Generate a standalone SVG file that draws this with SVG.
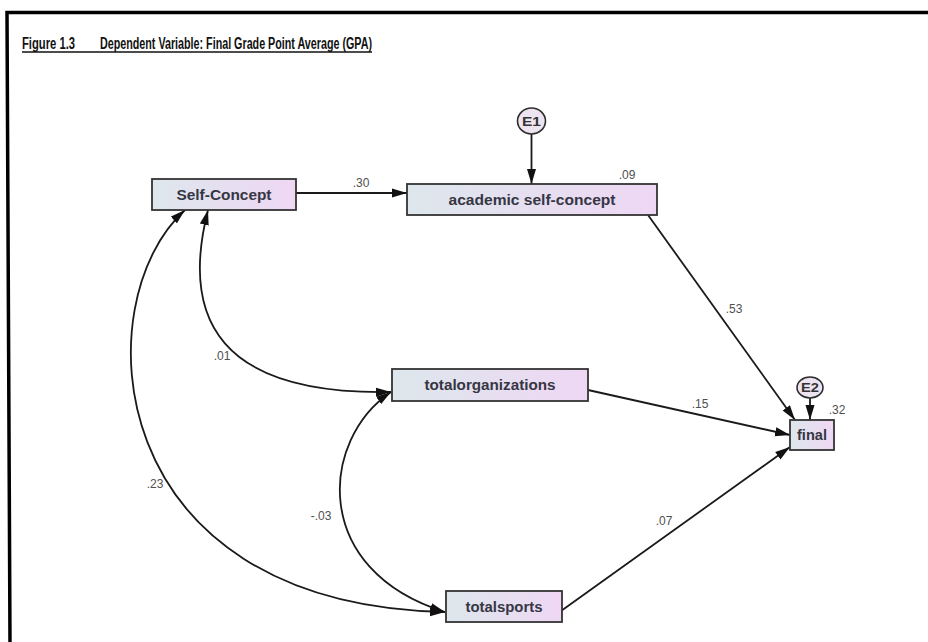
<svg xmlns="http://www.w3.org/2000/svg" width="928" height="642" viewBox="0 0 928 642">
<defs>
<linearGradient id="boxfill" x1="0" y1="0" x2="1" y2="0">
<stop offset="0" stop-color="#dde7ec"/>
<stop offset="1" stop-color="#efd7f4"/>
</linearGradient>
<marker id="ah" markerUnits="userSpaceOnUse" markerWidth="15" markerHeight="10" refX="15" refY="5" orient="auto-start-reverse" viewBox="0 0 15 10">
<path d="M0,0.5 L15,5 L0,9.5 z" fill="#111"/>
</marker>
<style>
.box{fill:url(#boxfill);stroke:#333;stroke-width:1.8}
.err{fill:#ede3f1;stroke:#2e2e2e;stroke-width:1.6}
.lbl{font-family:"Liberation Sans",Arial,sans-serif;font-size:14px;font-weight:bold;fill:#363644;text-anchor:middle}
.elbl{font-family:"Liberation Sans",Arial,sans-serif;font-size:13px;font-weight:bold;fill:#333;text-anchor:middle}
.num{font-family:"Liberation Sans",Arial,sans-serif;font-size:12px;fill:#505050;text-anchor:middle}
.edge{fill:none;stroke:#1a1a1a;stroke-width:1.8}
.title{font-family:"Liberation Sans",Arial,sans-serif;font-size:16px;font-weight:bold;fill:#111}
</style>
</defs>
<rect width="928" height="642" fill="#fff"/>
<g id="frame">
<path d="M928,12.5 L7,12.5 L10,642" fill="none" stroke="#000" stroke-width="3.5"/>
</g>
<g id="title">
<text class="title" x="22" y="48.5" textLength="53" lengthAdjust="spacingAndGlyphs">Figure 1.3</text>
<text class="title" x="100" y="48.5" textLength="272" lengthAdjust="spacingAndGlyphs">Dependent Variable: Final Grade Point Average (GPA)</text>
<line x1="22" y1="52" x2="372" y2="52" stroke="#111" stroke-width="1.3"/>
</g>
<g id="connectors">
<line class="edge" x1="531.5" y1="134" x2="531.5" y2="184" marker-end="url(#ah)"/>
<line class="edge" x1="296" y1="193" x2="407" y2="193" marker-end="url(#ah)"/>
<line class="edge" x1="648" y1="215" x2="795" y2="420" marker-end="url(#ah)"/>
<line class="edge" x1="588" y1="390" x2="790" y2="435" marker-end="url(#ah)"/>
<line class="edge" x1="561" y1="611" x2="790" y2="447" marker-end="url(#ah)"/>
<line class="edge" x1="810" y1="398" x2="810" y2="420" marker-end="url(#ah)"/>
<path class="edge" d="M185,210 C85,300 98,605 445,612" marker-start="url(#ah)" marker-end="url(#ah)"/>
<path class="edge" d="M208,210 C180,320 220,395 391,392" marker-start="url(#ah)" marker-end="url(#ah)"/>
<path class="edge" d="M391,392 C320,440 310,570 445,612" marker-start="url(#ah)" marker-end="url(#ah)"/>
<text class="num" x="361" y="187">.30</text>
<text class="num" x="734" y="313">.53</text>
<text class="num" x="700" y="408">.15</text>
<text class="num" x="664" y="525">.07</text>
<text class="num" x="222" y="360">.01</text>
<text class="num" x="155" y="488">.23</text>
<text class="num" x="321" y="520">-.03</text>
</g>
<g id="E1">
<ellipse class="err" cx="531.5" cy="121" rx="14" ry="13"/>
<text class="elbl" x="531.5" y="126" textLength="19" lengthAdjust="spacingAndGlyphs">E1</text>
</g>
<g id="E2">
<ellipse class="err" cx="810" cy="387.5" rx="13" ry="10.5"/>
<text class="elbl" x="810" y="392" textLength="18" lengthAdjust="spacingAndGlyphs">E2</text>
</g>
<g id="self-concept">
<rect class="box" x="152" y="179" width="144" height="31"/>
<text class="lbl" x="224" y="200" textLength="95" lengthAdjust="spacingAndGlyphs">Self-Concept</text>
</g>
<g id="academic-self-concept">
<rect class="box" x="407" y="184" width="250" height="31"/>
<text class="lbl" x="532" y="205" textLength="167" lengthAdjust="spacingAndGlyphs">academic self-concept</text>
<text class="num" x="627" y="179">.09</text>
</g>
<g id="totalorganizations">
<rect class="box" x="392" y="369" width="196" height="32"/>
<text class="lbl" x="490" y="390" textLength="131" lengthAdjust="spacingAndGlyphs">totalorganizations</text>
</g>
<g id="totalsports">
<rect class="box" x="446" y="591" width="116" height="31"/>
<text class="lbl" x="504" y="612" textLength="77" lengthAdjust="spacingAndGlyphs">totalsports</text>
</g>
<g id="final">
<rect class="box" x="790" y="420" width="44" height="30"/>
<text class="lbl" x="812" y="440" textLength="30" lengthAdjust="spacingAndGlyphs">final</text>
<text class="num" x="837" y="414">.32</text>
</g>
</svg>
